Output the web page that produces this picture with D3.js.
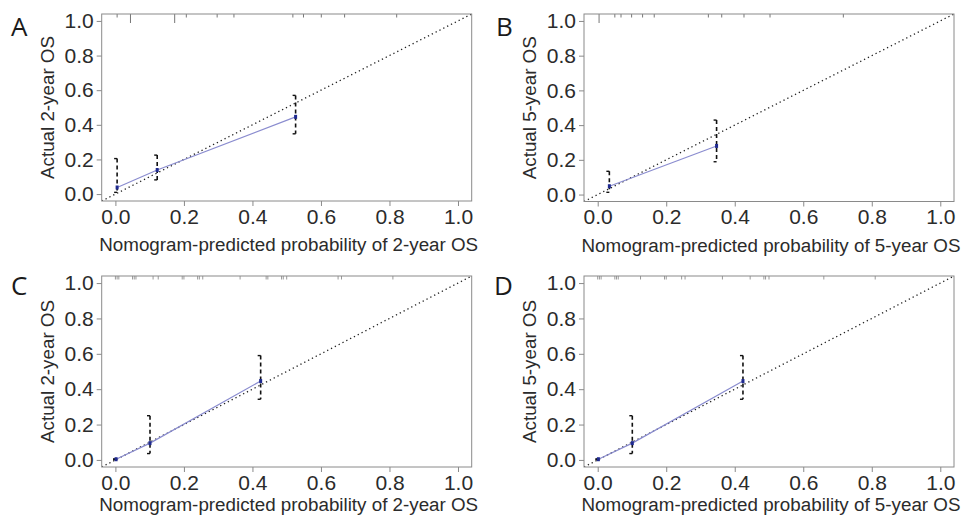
<!DOCTYPE html>
<html>
<head>
<meta charset="utf-8">
<script src="https://cdn.jsdelivr.net/npm/d3@7"></script>
<style>
  body { margin: 0; background: #fff; }
  svg { display: block; }
  .tick-label { font-family: "Liberation Sans", Arial, sans-serif; font-size: 21px; fill: #2b2b2b; }
  .axis-title { font-family: "Liberation Sans", Arial, sans-serif; font-size: 18.8px; fill: #2b2b2b; }
  .panel-letter { font-family: "Open Sans", "Noto Sans", sans-serif; font-size: 26px; font-weight: 400; fill: #1a1a1a; }
</style>
</head>
<body>
<svg id="chart" width="966" height="520"></svg>
<script>
// panel labels and titles
const panel_letters = ["A", "B", "C", "D"];
const x_titles = [
  "Nomogram-predicted probability of 2-year OS",
  "Nomogram-predicted probability of 5-year OS",
  "Nomogram-predicted probability of 2-year OS",
  "Nomogram-predicted probability of 5-year OS",
];
const y_titles = ["Actual 2-year OS", "Actual 5-year OS", "Actual 2-year OS", "Actual 5-year OS"];
const tick_values = [0, 0.2, 0.4, 0.6, 0.8, 1.0];

// calibration points: predicted, observed, lower CI, upper CI
const predicted_a = [0.005, 0.122, 0.526];
const observed_a = [0.038, 0.139, 0.446];
const lower_a = [0.01, 0.082, 0.348];
const upper_a = [0.205, 0.225, 0.57];

const predicted_b = [0.034, 0.347];
const observed_b = [0.048, 0.28];
const lower_b = [0.013, 0.189];
const upper_b = [0.134, 0.429];

const predicted_c = [0.002, 0.101, 0.424];
const observed_c = [0.004, 0.095, 0.446];
const lower_c = [0.002, 0.036, 0.343];
const upper_c = [0.006, 0.25, 0.59];

const predicted_d = [0.002, 0.101, 0.424];
const observed_d = [0.004, 0.095, 0.446];
const lower_d = [0.002, 0.036, 0.343];
const upper_d = [0.006, 0.25, 0.59];

// rug of predicted values along the top
const rug_a = [0.005, 0.044, 0.173, 0.207, 0.297, 0.346, 0.518, 0.549, 0.601, 0.669, 0.821];
const rug_a_long = [0.044, 0.173];
const rug_b = [0.004, 0.05, 0.068, 0.099, 0.131, 0.165, 0.323, 0.362, 0.427, 0.503, 0.717];
const rug_b_long = [0.004];
const rug_c = [0.0, 0.005, 0.01, 0.05, 0.055, 0.06, 0.11, 0.125, 0.195, 0.2, 0.24, 0.245, 0.255,
  0.364, 0.44, 0.445, 0.485, 0.49, 0.5, 0.65, 0.66, 0.81];
const rug_d = [0.0, 0.005, 0.01, 0.05, 0.055, 0.06, 0.125, 0.195, 0.2, 0.245, 0.255,
  0.364, 0.445, 0.485, 0.49, 0.5, 0.66, 0.81];

const panels = [
  { box: [101.7, 14, 471.7, 201], title_dy: 50, letter: [11, 36], pred: predicted_a, obs: observed_a, lo: lower_a, hi: upper_a, rug: rug_a, rug_long: rug_a_long },
  { box: [584, 14, 954, 201.5], title_dy: 50, letter: [496, 36], pred: predicted_b, obs: observed_b, lo: lower_b, hi: upper_b, rug: rug_b, rug_long: rug_b_long },
  { box: [101.7, 276, 471.7, 467], title_dy: 44, letter: [11, 295], pred: predicted_c, obs: observed_c, lo: lower_c, hi: upper_c, rug: rug_c, rug_long: [] },
  { box: [584, 276, 954, 467], title_dy: 44, letter: [494, 295], pred: predicted_d, obs: observed_d, lo: lower_d, hi: upper_d, rug: rug_d, rug_long: [] },
];

const svg = d3.select("#chart");
const domain = [-0.04, 1.04];

function draw_panel(p, i) {
  const [x0, y0, x1, y1] = p.box;
  const x = d3.scaleLinear().domain(domain).range([x0, x1]);
  const y = d3.scaleLinear().domain(domain).range([y1, y0]);
  const g = svg.append("g");

  // clip for diagonal
  const clip_id = "clip" + i;
  svg.append("clipPath").attr("id", clip_id)
    .append("rect").attr("x", x0).attr("y", y0).attr("width", x1 - x0).attr("height", y1 - y0);

  // rug along top
  g.selectAll(".rug")
    .data(p.rug)
    .join("line")
    .attr("x1", (d) => x(d)).attr("x2", (d) => x(d))
    .attr("y1", y0)
    .attr("y2", (d) => y0 + (p.rug_long.includes(d) ? 9 : 3.5))
    .attr("stroke", i < 2 ? "#777" : "#999")
    .attr("stroke-width", 1);

  // ideal line
  g.append("line")
    .attr("clip-path", `url(#${clip_id})`)
    .attr("x1", x(domain[0])).attr("y1", y(domain[0]))
    .attr("x2", x(domain[1])).attr("y2", y(domain[1]))
    .attr("stroke", "#222")
    .attr("stroke-width", 1.3)
    .attr("stroke-dasharray", "1.3,3");

  const pts = p.pred.map((d, k) => ({ px: d, ob: p.obs[k], lo: p.lo[k], hi: p.hi[k] }));

  // error bars
  const bars = g.selectAll(".bar").data(pts).join("g");
  bars.append("line")
    .attr("x1", (d) => x(d.px)).attr("x2", (d) => x(d.px))
    .attr("y1", (d) => y(d.hi)).attr("y2", (d) => y(d.lo))
    .attr("stroke", "#111").attr("stroke-width", 1.6)
    .attr("stroke-dasharray", "4,3");
  bars.append("line")
    .attr("x1", (d) => x(d.px) - 3).attr("x2", (d) => x(d.px))
    .attr("y1", (d) => y(d.hi)).attr("y2", (d) => y(d.hi))
    .attr("stroke", "#111").attr("stroke-width", 1.4);
  bars.append("line")
    .attr("x1", (d) => x(d.px) - 3).attr("x2", (d) => x(d.px))
    .attr("y1", (d) => y(d.lo)).attr("y2", (d) => y(d.lo))
    .attr("stroke", "#111").attr("stroke-width", 1.4);

  // observed line
  const line = d3.line().x((d) => x(d.px)).y((d) => y(d.ob));
  g.append("path")
    .datum(pts)
    .attr("fill", "none")
    .attr("stroke", "#8a8ccf")
    .attr("stroke-width", 1.2)
    .attr("d", line);

  g.selectAll(".pt").data(pts).join("rect")
    .attr("x", (d) => x(d.px) - 1.5).attr("y", (d) => y(d.ob) - 2)
    .attr("width", 3).attr("height", 4)
    .attr("fill", "#1f2a8f");

  // box
  g.append("rect")
    .attr("x", x0).attr("y", y0).attr("width", x1 - x0).attr("height", y1 - y0)
    .attr("fill", "none").attr("stroke", "#8a8a8a").attr("stroke-width", 1);

  // axes
  const x_axis = g.append("g")
    .attr("transform", `translate(0, ${y1})`)
    .call(d3.axisBottom(x).tickValues(tick_values).tickFormat(d3.format(".1f")).tickSize(5).tickPadding(3));
  const y_axis = g.append("g")
    .attr("transform", `translate(${x0}, 0)`)
    .call(d3.axisLeft(y).tickValues(tick_values).tickFormat(d3.format(".1f")).tickSize(5).tickPadding(3));
  [x_axis, y_axis].forEach((a) => {
    a.select(".domain").remove();
    a.selectAll(".tick line").attr("stroke", "#8a8a8a");
    a.selectAll(".tick text").attr("class", "tick-label");
    a.attr("font-size", null).attr("font-family", null);
  });

  // titles
  g.append("text")
    .attr("class", "axis-title")
    .attr("x", (x0 + x1) / 2 + 2)
    .attr("y", y1 + p.title_dy)
    .attr("text-anchor", "middle")
    .text(x_titles[i]);
  g.append("text")
    .attr("class", "axis-title")
    .attr("transform", `translate(${x0 - 48}, ${y(0.5)}) rotate(-90)`)
    .attr("text-anchor", "middle")
    .text(y_titles[i]);

  g.append("text")
    .attr("class", "panel-letter")
    .attr("x", p.letter[0]).attr("y", p.letter[1])
    .text(panel_letters[i]);
}

panels.forEach(draw_panel);
</script>
</body>
</html>
